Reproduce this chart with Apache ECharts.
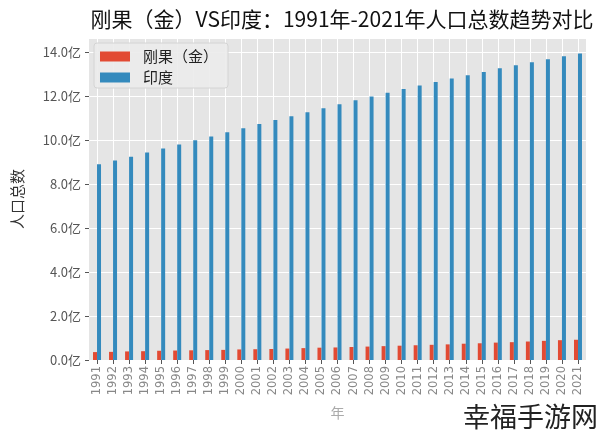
<!DOCTYPE html>
<html><head><meta charset="utf-8">
<script src="https://cdn.jsdelivr.net/npm/echarts@6/dist/echarts.min.js"></script>
<style>html,body{margin:0;padding:0;background:#fff}#c{width:600px;height:434px}</style>
</head><body><div id="c"></div>
<script>
const years = ['1991','1992','1993','1994','1995','1996','1997','1998','1999','2000','2001','2002','2003','2004','2005','2006','2007','2008','2009','2010','2011','2012','2013','2014','2015','2016','2017','2018','2019','2020','2021'];
const congo = [0.36,0.37,0.39,0.40,0.42,0.43,0.44,0.45,0.46,0.48,0.49,0.50,0.52,0.54,0.56,0.57,0.59,0.61,0.63,0.65,0.67,0.69,0.71,0.74,0.76,0.79,0.81,0.84,0.87,0.90,0.92];
const india = [8.89,9.06,9.24,9.43,9.61,9.79,9.98,10.16,10.35,10.53,10.72,10.90,11.08,11.26,11.44,11.62,11.80,11.97,12.14,12.31,12.47,12.63,12.79,12.94,13.09,13.25,13.39,13.53,13.66,13.80,13.93];
const yTicks = [0,2,4,6,8,10,12,14];
const seriesNames = ['刚果（金）','印度'];

const FONT = '"Noto Sans CJK SC","DejaVu Sans",sans-serif';
const gl = 89, gr = 14, gw = 600 - gl - gr;
const half = gw / years.length / 2;
const chart = echarts.init(document.getElementById('c'), null, {renderer:'canvas'});
chart.setOption({
  animation:false,
  backgroundColor:'#fff',
  title:{text:'刚果（金）VS印度：1991年-2021年人口总数趋势对比', left:337, textAlign:'center', top:4,
    textStyle:{fontFamily:FONT, fontSize:21, fontWeight:'normal', color:'#111'}},
  grid:[
    {left:gl, right:gr, top:38, bottom:74, show:true, backgroundColor:'#E5E5E5', borderWidth:0},
    {left:gl+half, right:gr+half, top:38, bottom:74, show:false}
  ],
  legend:{data:seriesNames, orient:'vertical', left:94, top:43, itemWidth:30, itemHeight:10, itemGap:6,
    padding:[6,10,3,6], backgroundColor:'rgba(236,236,236,0.92)', borderColor:'#d4d4d4', borderWidth:1, borderRadius:3,
    textStyle:{fontFamily:FONT, fontSize:15, lineHeight:15, color:'#222', padding:[0,0,0,8]}, icon:'rect'},
  xAxis:[
    {type:'category', data:years, gridIndex:0, boundaryGap:true,
     name:'年', nameLocation:'middle', nameGap:46, nameTextStyle:{fontFamily:FONT, fontSize:14, color:'#aaa'},
     axisLine:{show:false}, axisTick:{show:true, alignWithLabel:true, length:4, lineStyle:{color:'#555'}},
     axisLabel:{rotate:90, interval:0, fontFamily:'"DejaVu Sans",sans-serif', fontSize:11.5, color:'#888', margin:6},
     splitLine:{show:false}},
    {type:'category', data:years, gridIndex:1, boundaryGap:false,
     axisLine:{show:false}, axisTick:{show:false}, axisLabel:{show:false},
     splitLine:{show:true, interval:0, lineStyle:{color:'#fff', width:1}}}
  ],
  yAxis:[
    {type:'value', gridIndex:0, min:0, max:14.63, interval:2,
     name:'人口总数', nameLocation:'middle', nameGap:64, nameRotate:90,
     nameTextStyle:{fontFamily:FONT, fontSize:15, color:'#333'},
     axisLine:{show:false}, axisTick:{show:true, length:4, lineStyle:{color:'#555'}},
     axisLabel:{fontFamily:FONT, fontSize:13, color:'#555', margin:8, showMaxLabel:false,
       formatter:v => yTicks.includes(Math.round(v*100)/100) ? v.toFixed(1)+'亿' : ''},
     splitLine:{show:true, lineStyle:{color:'#fff', width:1}}},
    {type:'value', gridIndex:1, min:0, max:14.63, show:false, splitLine:{show:false}}
  ],
  series:[
    {name:seriesNames[0], type:'bar', xAxisIndex:0, yAxisIndex:0, data:congo, barWidth:4, barGap:'0%',
     itemStyle:{color:'#E24A33'}, z:3},
    {name:seriesNames[1], type:'bar', xAxisIndex:0, yAxisIndex:0, data:india, barWidth:4, barGap:'0%',
     itemStyle:{color:'#348ABD'}, z:3}
  ],
  graphic:[
    {type:'text', right:2, bottom:4, z:100, style:{text:'幸福手游网', fontFamily:FONT, fontSize:27, fill:'#222'}}
  ]
});
</script></body></html>
